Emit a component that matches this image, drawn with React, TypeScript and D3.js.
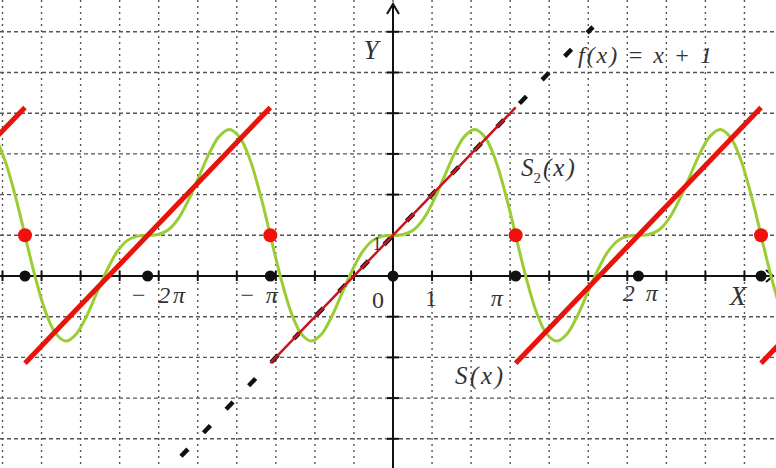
import * as d3 from "d3";
import React from "react";

const width = 776;
const height = 468;
// where the axes cross and how many pixels one unit takes
const origin = { x: 393, y: 276 };
const unit = { x: 39.05, y: 40.7 };

const PI = Math.PI;

// grid lines (integer units)
const xGrid = d3.range(-10, 10);
const yGrid = d3.range(-4, 7);

// tick labels on the x axis
const xLabels = [
  { v: -2 * PI, text: "\u2212 2\u03c0", dx: 10, base: 303, len: 55 },
  { v: -PI, text: "\u2212 \u03c0", dx: -12, base: 303, len: 39 },
  { v: 0, text: "0", dx: -15, base: 308, len: 0 },
  { v: 1, text: "1", dx: -1, base: 306, len: 0 },
  { v: PI, text: "\u03c0", dx: -19, base: 306, len: 0 },
  { v: 2 * PI, text: "2\u03c0", dx: 2, base: 301, len: 35 },
];

// black dots on the x axis, red dots at the jumps
const axisDots = [-3 * PI, -2 * PI, -PI, 0, PI, 2 * PI, 3 * PI];
const jumpDots = [-3 * PI, -PI, PI, 3 * PI];
const jumpValue = 1;

// S(x): one straight piece per period, centred on these x values
const periodCentres = [-4 * PI, -2 * PI, 0, 2 * PI, 4 * PI];
const pieceStart = [-PI, 1 - PI];
const pieceEnd = [PI, 1 + PI];

// S2(x) read over one period, every pi/12
const s2X = d3.range(-12, 13).map((k) => (k * PI) / 12);
const s2Y = [
  1, -0.02, -0.87, -1.41, -1.6, -1.43, -1, -0.43, 0.13, 0.59, 0.87, 0.98, 1,
  1.02, 1.13, 1.41, 1.87, 2.43, 3, 3.43, 3.6, 3.41, 2.87, 2.02, 1,
];

// f(x) = x + 1, dashed, as far as it is drawn
const fLine = [
  [-5.43, -4.43],
  [5.12, 6.12],
];

const x = d3
  .scaleLinear()
  .domain([-origin.x / unit.x, (width - origin.x) / unit.x])
  .range([0, width]);
const y = d3
  .scaleLinear()
  .domain([origin.y / unit.y, -(height - origin.y) / unit.y])
  .range([0, height]);

const line = d3
  .line<number[]>()
  .x((d) => x(d[0]))
  .y((d) => y(d[1]));

const curve = d3
  .line<number[]>()
  .x((d) => x(d[0]))
  .y((d) => y(d[1]))
  .curve(d3.curveCatmullRom);

const serif = "'Liberation Serif', 'DejaVu Serif', serif";
const labelColor = "#333";

export default function App() {
  const greenPath = periodCentres
    .map((c) => curve(s2X.map((v, i) => [v + c, s2Y[i]])))
    .join("");

  return (
    <svg
      width={width}
      height={height}
      style={{ position: "absolute", left: 0, top: 0, background: "#fff" }}
    >
      {/* grid */}
      <g stroke="#555" strokeWidth={1.4}>
        {xGrid.map((v) => (
          <line
            key={"gx" + v}
            x1={x(v)}
            x2={x(v)}
            y1={0}
            y2={height}
            strokeDasharray="2 4"
          />
        ))}
        {yGrid.map((v) => (
          <line
            key={"gy" + v}
            x1={0}
            x2={width}
            y1={y(v)}
            y2={y(v)}
            strokeDasharray="4 3"
          />
        ))}
      </g>

      {/* axes */}
      <g stroke="#111" strokeWidth={2} fill="none">
        <line x1={0} x2={width - 3} y1={y(0)} y2={y(0)} />
        <line x1={x(0)} x2={x(0)} y1={height} y2={4} />
        <path
          d={`M${width - 10},${y(0) - 6}L${width - 3},${y(0)}L${width - 10},${y(0) + 6}`}
        />
        <path d={`M${x(0) - 6},${14}L${x(0)},${4}L${x(0) + 6},${14}`} />
        {xGrid
          .filter((v) => v !== 0)
          .map((v) => (
            <line
              key={"tx" + v}
              x1={x(v)}
              x2={x(v)}
              y1={y(0) - 5}
              y2={y(0) + 5}
            />
          ))}
        {yGrid
          .filter((v) => v !== 0)
          .map((v) => (
            <line
              key={"ty" + v}
              x1={x(0) - 6}
              x2={x(0) + 6}
              y1={y(v)}
              y2={y(v)}
            />
          ))}
      </g>

      {/* f(x) = x + 1 */}
      <path
        d={line(fLine) || ""}
        stroke="#111"
        strokeWidth={4.5}
        strokeDasharray="10 22.6"
        fill="none"
      />

      {/* S2(x) */}
      <path
        d={greenPath}
        stroke="#9acd32"
        strokeWidth={3}
        fill="none"
        strokeLinejoin="round"
      />

      {/* S(x) */}
      {periodCentres.map((c) => (
        <path
          key={"s" + c}
          d={
            line([
              [pieceStart[0] + c, pieceStart[1]],
              [pieceEnd[0] + c, pieceEnd[1]],
            ]) || ""
          }
          stroke={c === 0 ? "#c8161d" : "#e8140c"}
          strokeWidth={c === 0 ? 2.5 : 5}
          fill="none"
        />
      ))}

      {/* dots */}
      {axisDots.map((v) => (
        <circle key={"bd" + v} cx={x(v)} cy={y(0)} r={5.5} fill="#111" />
      ))}
      {jumpDots.map((v) => (
        <circle key={"rd" + v} cx={x(v)} cy={y(jumpValue)} r={7} fill="#f0100c" />
      ))}

      {/* labels */}
      <g fontFamily={serif} fill={labelColor} fontStyle="italic" fontSize={24}>
        {xLabels.map((d) => (
          <text
            key={d.text}
            x={x(d.v) + d.dx}
            y={d.base}
            textAnchor="middle"
            fontStyle={d.text === "0" || d.text === "1" ? "normal" : "italic"}
            textLength={d.len || undefined}
            lengthAdjust="spacing"
          >
            {d.text}
          </text>
        ))}
        <text x={x(0) - 16} y={250} fontSize={18} textAnchor="middle" fontStyle="normal">
          1
        </text>
        <text x={371} y={59} textAnchor="middle" fontSize={27}>
          Y
        </text>
        <text x={738} y={305} textAnchor="middle" fontSize={27}>
          X
        </text>
        <text x={578} y={63} fontSize={24} textLength={134} lengthAdjust="spacing">
          f(x) = x + 1
        </text>
        <text x={521} y={176} fontSize={25}>
          S
          <tspan fontSize={15} dy={7} fontStyle="normal">
            2
          </tspan>
          <tspan dy={-7} dx={2} letterSpacing={2}>
            (x)
          </tspan>
        </text>
        <text x={455} y={384} fontSize={25} textLength={48} lengthAdjust="spacing">
          S(x)
        </text>
      </g>
    </svg>
  );
}
